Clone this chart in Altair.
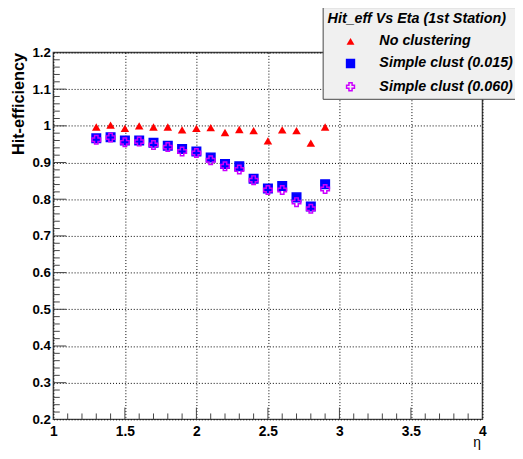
import altair as alt
import pandas as pd

eta = [1.3, 1.4, 1.5, 1.6, 1.7, 1.8, 1.9, 2.0, 2.1, 2.2, 2.3, 2.4, 2.5, 2.6, 2.7, 2.8, 2.9]
no_clust = [0.997, 1.002, 0.993, 1.000, 0.997, 0.997, 0.989, 0.993, 0.995, 0.982, 0.990, 0.987,
            0.959, 0.989, 0.987, 0.953, 0.997]
clust_015 = [0.966, 0.969, 0.960, 0.960, 0.954, 0.946, 0.937, 0.930, 0.914, 0.896, 0.890, 0.856,
             0.829, 0.836, 0.805, 0.780, 0.841]
clust_060 = [0.962, 0.968, 0.955, 0.957, 0.948, 0.942, 0.930, 0.926, 0.906, 0.890, 0.881, 0.852,
             0.825, 0.825, 0.792, 0.774, 0.828]
series_names = ["No clustering", "Simple clust (0.015)", "Simple clust (0.060)"]

x_major = [1.5, 2.0, 2.5, 3.0, 3.5]
x_minor = [1.1, 1.2, 1.3, 1.4, 1.6, 1.7, 1.8, 1.9, 2.1, 2.2, 2.3, 2.4, 2.6, 2.7, 2.8, 2.9,
           3.1, 3.2, 3.3, 3.4, 3.6, 3.7, 3.8, 3.9]
y_major = [0.3, 0.4, 0.5, 0.6, 0.7, 0.8, 0.9, 1.0, 1.1]
y_minor = [0.22, 0.24, 0.26, 0.28, 0.32, 0.34, 0.36, 0.38, 0.42, 0.44, 0.46, 0.48,
           0.52, 0.54, 0.56, 0.58, 0.62, 0.64, 0.66, 0.68, 0.72, 0.74, 0.76, 0.78,
           0.82, 0.84, 0.86, 0.88, 0.92, 0.94, 0.96, 0.98, 1.02, 1.04, 1.06, 1.08,
           1.12, 1.14, 1.16, 1.18]

rows = []
for name, vals in zip(series_names, [no_clust, clust_015, clust_060]):
    for e, v in zip(eta, vals):
        rows.append({"eta": e, "eff": v, "series": name})
df = pd.DataFrame(rows)

FONT = "Liberation Sans"
W, H = 435, 372

xscale = alt.Scale(domain=[1, 4], nice=False, zero=False)
yscale = alt.Scale(domain=[0.2, 1.2], nice=False, zero=False)

xaxis = alt.Axis(values=[1, 1.5, 2, 2.5, 3, 3.5, 4], format="~g", title="η",
                 titleX=433, titleY=27, titleAlign="right", titleBaseline="alphabetic",
                 titleFontWeight="normal", titleFontSize=14, titleFont=FONT, titleColor="black",
                 labelFont=FONT, labelFontSize=14, labelFontWeight="bold", labelColor="black",
                 labelPadding=5, ticks=False, tickSize=0, domain=False,
                 grid=True, gridColor="black", gridDash=[1, 2], gridWidth=1,
                 labelFlush=False)
yaxis = alt.Axis(values=[0.2, 0.3, 0.4, 0.5, 0.6, 0.7, 0.8, 0.9, 1.0, 1.1, 1.2], format="~g",
                 title="Hit-efficiency", titleAnchor="end", titleFontWeight="bold",
                 titleFontSize=16.5, titleFont=FONT, titlePadding=6, titleColor="black",
                 labelFont=FONT, labelFontSize=13.5, labelFontWeight="bold", labelColor="black",
                 labelPadding=3, ticks=False, tickSize=0, domain=False,
                 grid=True, gridColor="black", gridDash=[1, 2], gridWidth=1,
                 labelFlush=False)

legend = alt.Legend(title="Hit_eff Vs Eta (1st Station)", orient="none", legendX=273, legendY=-46,
                    fillColor="#f0f0f0", strokeColor="#444444", padding=5,
                    titleFont=FONT, titleFontSize=14.5, titleFontStyle="italic",
                    titleFontWeight="bold", titleColor="black", titlePadding=8, titleLimit=0,
                    labelFont=FONT, labelFontSize=14.5, labelFontStyle="italic",
                    labelFontWeight="bold", labelColor="black", labelLimit=0,
                    rowPadding=7.5, symbolOffset=16, labelOffset=22, symbolSize=64,
                    symbolStrokeWidth=1.5)

points = alt.Chart(df).mark_point(size=75, strokeWidth=1.5, opacity=1, filled=False).encode(
    x=alt.X("eta:Q", scale=xscale, axis=xaxis),
    y=alt.Y("eff:Q", scale=yscale, axis=yaxis),
    shape=alt.Shape("series:N", scale=alt.Scale(domain=series_names,
                    range=["triangle-up", "square", "cross"]), legend=legend),
    fill=alt.Fill("series:N", scale=alt.Scale(domain=series_names,
                  range=["#ff0000", "#0000ff", "transparent"]), legend=legend),
    stroke=alt.Stroke("series:N", scale=alt.Scale(domain=series_names,
                      range=["transparent", "#0000ff", "#cc00ff"]), legend=legend),
)

def xticks(vals, length):
    return alt.Chart(pd.DataFrame({"v": vals})).mark_rule(color="#444444", strokeWidth=1).encode(
        x=alt.X("v:Q", scale=xscale, axis=xaxis),
        y=alt.value(H), y2=alt.value(H - length))

def yticks(vals, length):
    return alt.Chart(pd.DataFrame({"v": vals})).mark_rule(color="#444444", strokeWidth=1).encode(
        y=alt.Y("v:Q", scale=yscale, axis=yaxis),
        x=alt.value(0), x2=alt.value(length))

chart = alt.layer(
    xticks(x_major, 12), xticks(x_minor, 6),
    yticks(y_major, 13), yticks(y_minor, 6.5),
    points,
).properties(
    width=W, height=H,
    autosize=alt.AutoSizeParams(type="none"),
    padding={"left": 46, "top": 42, "right": 33, "bottom": 29},
    background="white",
).configure_view(stroke="#444444", strokeWidth=1.5)

chart.save("out.html", embed_options={"renderer": "svg", "actions": False})
